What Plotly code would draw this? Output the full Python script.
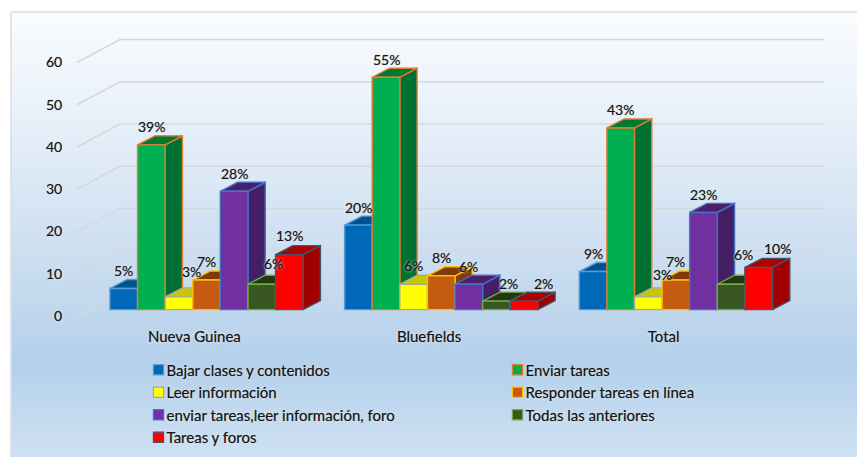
import plotly.graph_objects as go

categories = ["Nueva Guinea", "Bluefields", "Total"]
series_names = ["Bajar clases y contenidos", "Enviar tareas", "Leer información",
                "Responder tareas en línea", "enviar tareas,leer información, foro",
                "Todas las anteriores", "Tareas y foros"]
bajar = [5, 20, 9]
enviar = [39, 55, 43]
leer = [3, 6, 3]
responder = [7, 8, 7]
enviar_leer_foro = [28, 6, 23]
todas = [6, 2, 6]
tareas_foros = [13, 2, 10]
series_values = [bajar, enviar, leer, responder, enviar_leer_foro, todas, tareas_foros]
y_ticks = [0, 10, 20, 30, 40, 50, 60]

front = ["#0068B8", "#00B050", "#FFFF00", "#C55A11", "#7030A0", "#385723", "#FF0000"]
side = ["#004E8C", "#006F32", "#C4C400", "#843C0C", "#451F66", "#1E3010", "#A00000"]
top = ["#00518F", "#007A30", "#C8C800", "#7F3A0A", "#4A1F6E", "#223712", "#B00000"]
edge = ["#5B9BD5", "#E07B30", "#A5A5A5", "#FFC000", "#4472C4", "#70AD47", "#44546A"]

W, H = 857, 457
L, R, T, B = 77, 830, 30, 315.7
PX_X = 234.67          # pixels per category
PX_Y = 4.22            # pixels per value unit
xmin = -0.5
xmax = xmin + (R - L) / PX_X
ymax = (B - T) / PX_Y

def dxu(px): return px / PX_X
def dyu(px): return px / PX_Y

wall_dx, wall_dy = dxu(43), dyu(23)
bar_w = dxu(27.6)
bar_off_x, bar_off_y = dxu(12.2), dyu(6.4)
bar_dx, bar_dy = dxu(17.3), dyu(9)

# label nudges in px, per series then category
nudge_x = [[0, 0, 0], [0, 0, 0], [13, 0, 14], [0, 0, 0], [0, 0, 0], [12, 12, 12], [0, 19, 19]]
nudge_y = [[18, 18, 18], [18, 18, 18], [25, 19, 22], [19, 18, 19], [18, 18, 18], [21, 18, 30], [19, 18, 19]]

shadow = "0 0 1px rgba(0,0,0,0.45), 0 0 3px #ffffff"
font = dict(family="Lato, Carlito, sans-serif", size=14, color="#161616", shadow=shadow)
font_cat = dict(font, size=15)
font_leg = dict(font, size=15)

fig = go.Figure()

# gridlines: wall plus slanted side wall
gx, gy = [], []
for t in y_ticks:
    gx += [xmin, xmin + wall_dx, xmax - 0.0255, None]
    gy += [t, t + wall_dy, t + wall_dy, None]
fig.add_trace(go.Scatter(x=gx, y=gy, mode="lines", line=dict(color="#d5d9dd", width=1.6),
                         showlegend=False, hoverinfo="skip", zorder=0))

annotations = []
for s, (name, vals) in enumerate(zip(series_names, series_values)):
    xs = [c - 3.5 * bar_w + s * bar_w + bar_off_x for c in range(len(categories))]  # left edges
    sx, sy, tx, ty = [], [], [], []
    for x0, v in zip(xs, vals):
        xr = x0 + bar_w
        b = bar_off_y
        t = bar_off_y + v
        sx += [xr, xr + bar_dx, xr + bar_dx, xr, xr, None]
        sy += [b, b + bar_dy, t + bar_dy, t, b, None]
        tx += [x0, x0 + bar_dx, xr + bar_dx, xr, x0, None]
        ty += [t, t + bar_dy, t + bar_dy, t, t, None]
    z = 2 * s + 1
    fig.add_trace(go.Scatter(x=sx, y=sy, mode="lines", fill="toself", fillcolor=side[s],
                             line=dict(color=edge[s], width=1.4), showlegend=False,
                             hoverinfo="skip", zorder=z))
    fig.add_trace(go.Scatter(x=tx, y=ty, mode="lines", fill="toself", fillcolor=top[s],
                             line=dict(color=edge[s], width=1.4), showlegend=False,
                             hoverinfo="skip", zorder=z))
    fig.add_trace(go.Bar(x=[x + bar_w / 2 for x in xs], y=vals, base=[bar_off_y] * 3, width=bar_w,
                         name=name, marker=dict(color=front[s], line=dict(color=edge[s], width=1.4)),
                         zorder=z + 1))
    for c, (x0, v) in enumerate(zip(xs, vals)):
        annotations.append(dict(x=x0 + bar_w / 2, y=bar_off_y + v, text=f"{v}%", showarrow=False,
                                xshift=nudge_x[s][c], yshift=nudge_y[s][c], font=font,
                                xanchor="center", yanchor="middle"))

# background gradient and frame, in paper coordinates
def px(x): return (x - L) / (R - L)
def py(y): return (B - y) / (B - T)
stops = [(12, (250, 252, 254)), (120, (231, 240, 249)), (240, (207, 224, 241)),
         (365, (180, 208, 235)), (457, (207, 225, 243))]
def color_at(y):
    for (y0, c0), (y1, c1) in zip(stops, stops[1:]):
        if y <= y1:
            f = (y - y0) / (y1 - y0)
            return "rgb(%d,%d,%d)" % tuple(round(a + (b - a) * f) for a, b in zip(c0, c1))
    return "rgb(207,225,243)"
shapes = []
step = 4
for y in range(12, 457, step):
    shapes.append(dict(type="rect", xref="paper", yref="paper", x0=px(11), x1=px(857),
                       y0=py(y), y1=py(y + step + 1), fillcolor=color_at(y + step / 2),
                       line=dict(width=0), layer="below"))
shapes.append(dict(type="line", xref="paper", yref="paper", x0=px(11), x1=px(857), y0=py(12), y1=py(12),
                   line=dict(color="#dcdcdc", width=1.5), layer="below"))
shapes.append(dict(type="line", xref="paper", yref="paper", x0=px(11), x1=px(11), y0=py(12), y1=py(457),
                   line=dict(color="#dcdcdc", width=1.5), layer="below"))

fig.update_layout(
    width=W, height=H, autosize=False,
    margin=dict(l=L, r=W - R, t=T, b=H - B, pad=0),
    paper_bgcolor="white", plot_bgcolor="rgba(0,0,0,0)",
    barmode="overlay", font=font, shapes=shapes, annotations=annotations,
    xaxis=dict(range=[xmin, xmax], tickmode="array", tickvals=list(range(3)), ticktext=categories,
               showgrid=False, zeroline=False, showline=False, ticks="outside", ticklen=7,
               tickcolor="rgba(0,0,0,0)", tickfont=font_cat, automargin=False),
    yaxis=dict(range=[0, ymax], tickmode="array", tickvals=y_ticks, showgrid=False, zeroline=False,
               showline=False, ticks="outside", ticklen=11, tickcolor="rgba(0,0,0,0)",
               tickfont=font, automargin=False),
    legend=dict(orientation="h", xref="container", yref="container", x=126.5 / W, y=1 - 353.5 / H,
                xanchor="left", yanchor="top", entrywidth=314, entrywidthmode="pixels",
                bgcolor="rgba(0,0,0,0)", font=font_leg, traceorder="normal", itemclick=False),
    showlegend=True,
)

post = ("document.body.style.margin='0';document.body.style.overflow='hidden';"
        "document.querySelectorAll('.legendpoints').forEach(function(g){"
        "g.setAttribute('transform','translate(15,0) scale(0.85)');});")
fig.write_html("out.html", config={"displayModeBar": False}, post_script=post)
